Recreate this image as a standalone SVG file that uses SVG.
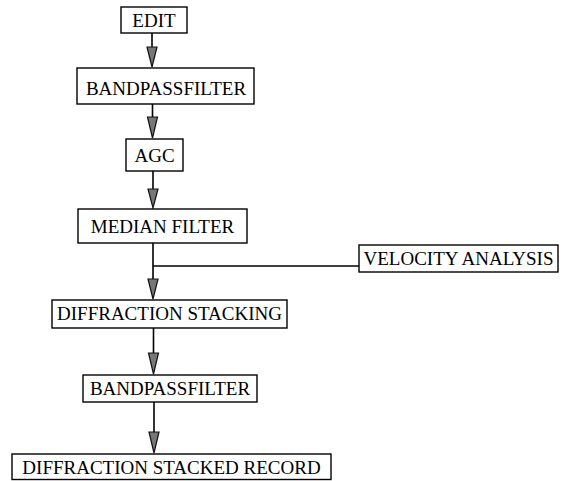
<svg xmlns="http://www.w3.org/2000/svg" width="574" height="481" viewBox="0 0 574 481">
<style>
.box{fill:#fff;stroke:#000;stroke-width:1.4}
.lbl{font-family:"Liberation Serif","Times New Roman",serif;font-size:19px;fill:#000;text-anchor:middle}
.conn{stroke:#000;stroke-width:1.6;fill:none}
.head{fill:#777;stroke:#111;stroke-width:1.2;stroke-linejoin:miter}
</style>
<rect width="574" height="481" fill="#fff"/>
<g id="connectors">
<line class="conn" x1="152" y1="33" x2="152" y2="48"/>
<polygon class="head" points="147,47 157,47 152,67"/>
<line class="conn" x1="152.5" y1="104" x2="152.5" y2="118"/>
<polygon class="head" points="147.5,117 157.5,117 152.5,138"/>
<line class="conn" x1="153" y1="171" x2="153" y2="190"/>
<polygon class="head" points="148,189 158,189 153,208"/>
<line class="conn" x1="153" y1="243" x2="153" y2="280"/>
<line class="conn" x1="153" y1="266" x2="359" y2="266"/>
<polygon class="head" points="148,279 158,279 153,299"/>
<line class="conn" x1="153.5" y1="328" x2="153.5" y2="354"/>
<polygon class="head" points="148.5,353 158.5,353 153.5,374"/>
<line class="conn" x1="154" y1="402" x2="154" y2="433"/>
<polygon class="head" points="149,432 159,432 154,453"/>
</g>
<g id="edit"><rect class="box" x="121" y="7" width="66" height="26"/><text class="lbl" x="154" y="27">EDIT</text></g>
<g id="bandpass1"><rect class="box" x="77" y="68" width="177" height="36"/><text class="lbl" x="166" y="94.5">BANDPASSFILTER</text></g>
<g id="agc"><rect class="box" x="126" y="139" width="57" height="32"/><text class="lbl" x="154.5" y="161.5">AGC</text></g>
<g id="median"><rect class="box" x="78" y="209" width="169" height="34"/><text class="lbl" x="162.5" y="232.5">MEDIAN FILTER</text></g>
<g id="velocity"><rect class="box" x="359" y="245" width="199" height="27"/><text class="lbl" x="458.5" y="265">VELOCITY ANALYSIS</text></g>
<g id="diffstack"><rect class="box" x="52" y="300" width="235" height="28"/><text class="lbl" x="169.5" y="320">DIFFRACTION STACKING</text></g>
<g id="bandpass2"><rect class="box" x="83" y="375" width="174" height="27"/><text class="lbl" x="170" y="395">BANDPASSFILTER</text></g>
<g id="record"><rect class="box" x="12" y="454" width="319" height="25.5"/><text class="lbl" x="171.5" y="474">DIFFRACTION STACKED RECORD</text></g>
</svg>
